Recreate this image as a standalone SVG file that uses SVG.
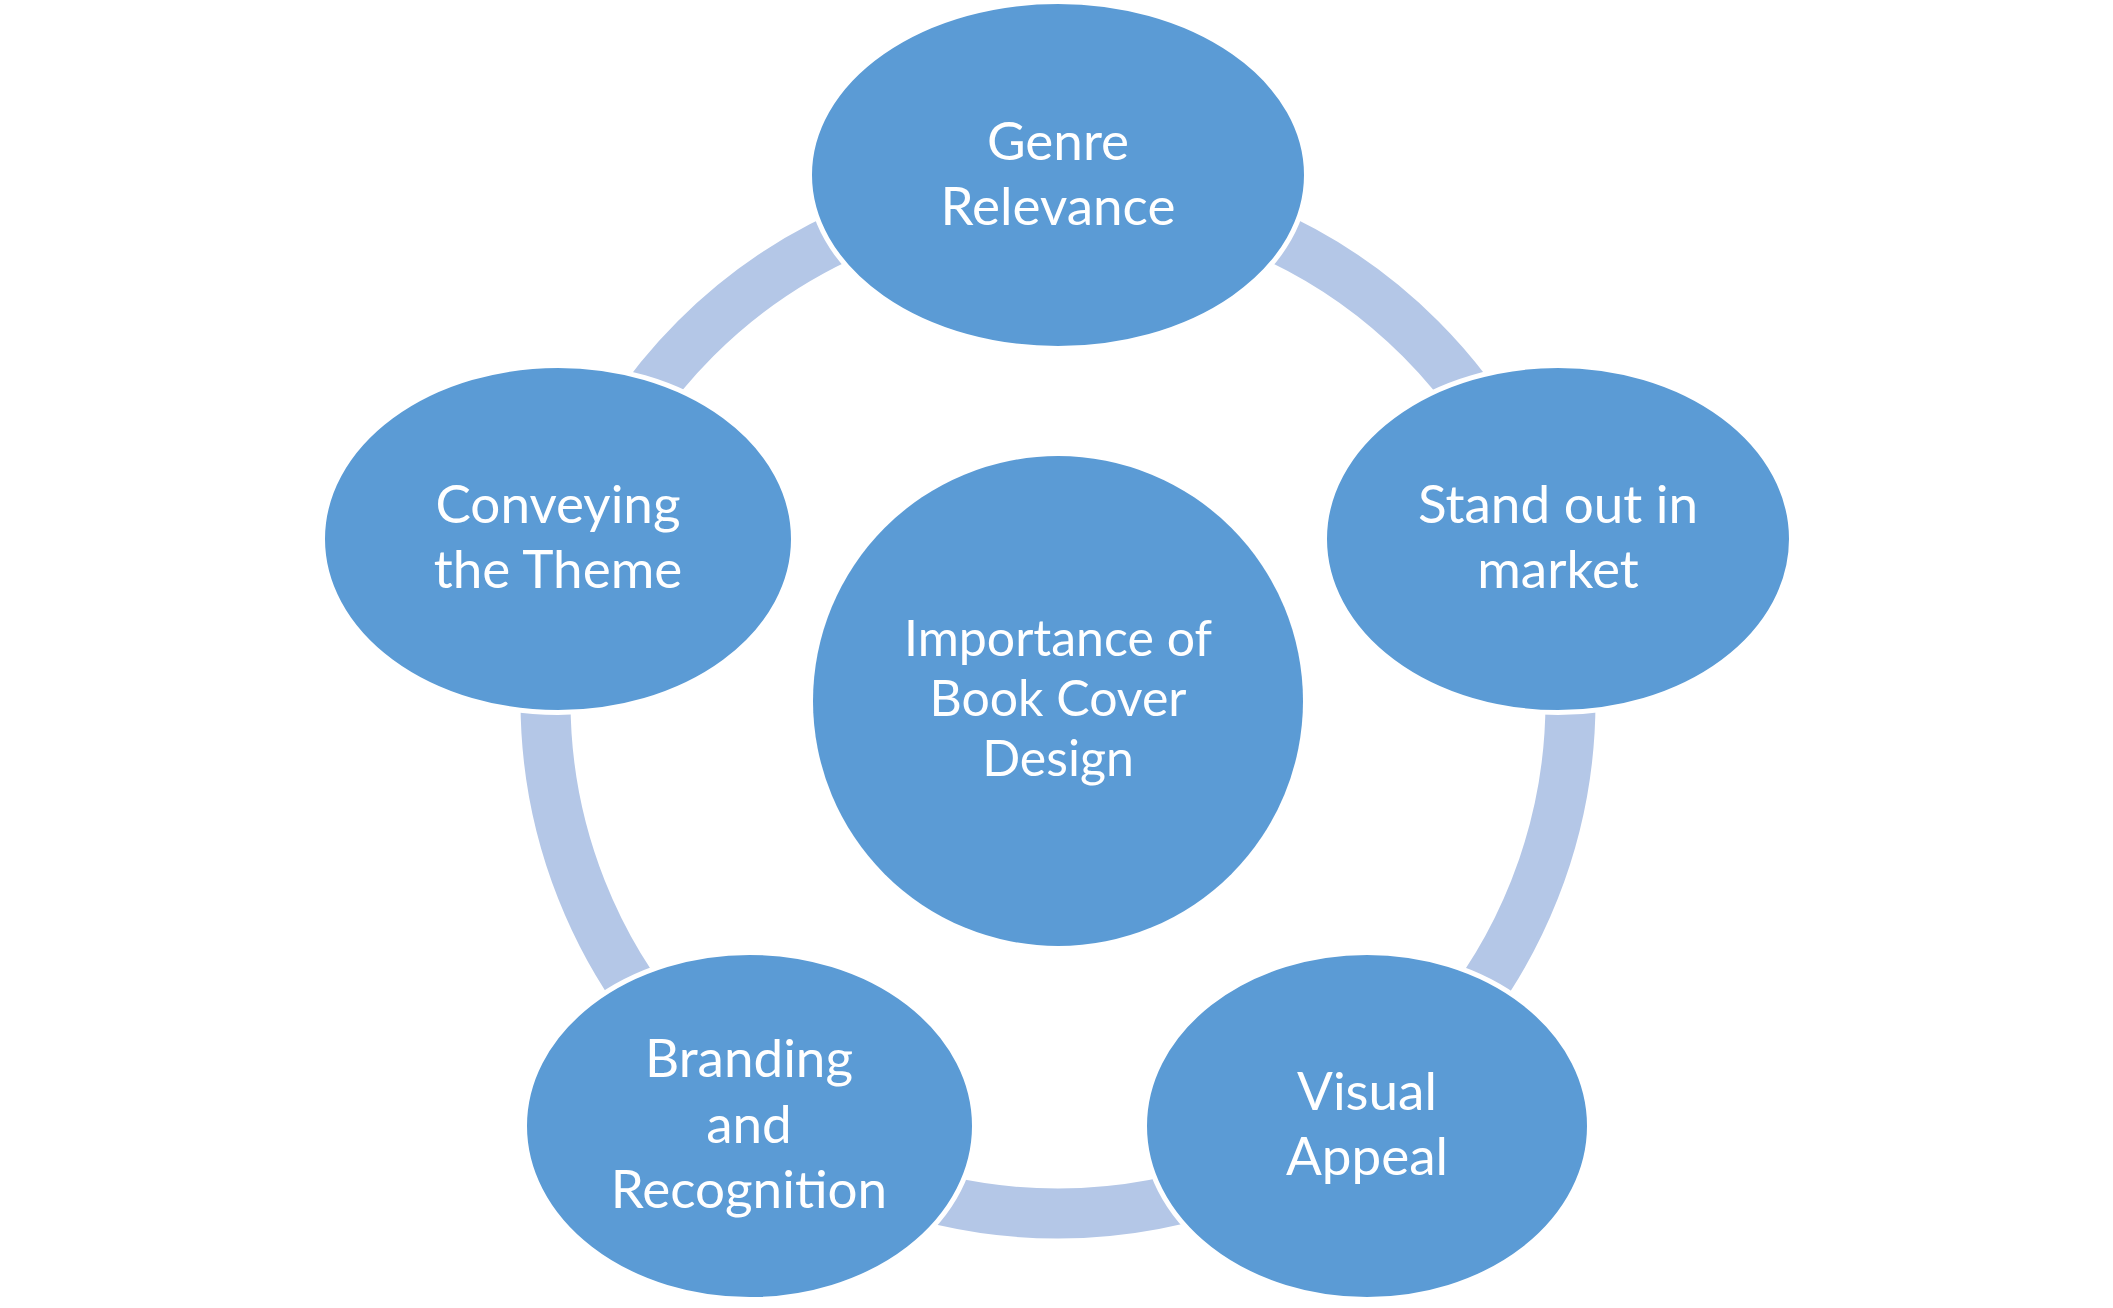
<svg xmlns="http://www.w3.org/2000/svg" width="2113" height="1308" viewBox="0 0 2113 1308">
<style>
.node{fill:#5B9BD5;stroke:#FFFFFF;stroke-width:5}
.hub{fill:#5B9BD5;stroke:none}
.ring{fill:none;stroke:#B4C7E7;stroke-width:50}
.t{font-family:Lato,"Open Sans","Liberation Sans",sans-serif;fill:#FFFFFF;text-anchor:middle;font-size:53px}
.tc{font-size:50px}
</style>
<rect width="2113" height="1308" fill="#FFFFFF"/>
<g id="connectors">
<circle class="ring" cx="1058" cy="701" r="512.5"/>
</g>
<g id="hub">
<circle class="hub" cx="1058" cy="701" r="245"/>
<text class="t tc" x="1058" y="656">Importance of</text>
<text class="t tc" x="1058" y="716">Book Cover</text>
<text class="t tc" x="1058" y="776">Design</text>
</g>
<g id="node-genre">
<ellipse class="node" cx="1058" cy="175" rx="248.5" ry="173.5"/>
<text class="t" x="1058" y="160">Genre</text>
<text class="t" x="1058" y="225">Relevance</text>
</g>
<g id="node-stand">
<ellipse class="node" cx="1558" cy="539" rx="233.5" ry="173.5"/>
<text class="t" x="1558" y="523">Stand out in</text>
<text class="t" x="1558" y="588">market</text>
</g>
<g id="node-visual">
<ellipse class="node" cx="1367" cy="1126" rx="222.5" ry="173.5"/>
<text class="t" x="1367" y="1110">Visual</text>
<text class="t" x="1367" y="1175">Appeal</text>
</g>
<g id="node-branding">
<ellipse class="node" cx="749.5" cy="1126" rx="225" ry="173.5"/>
<text class="t" x="749" y="1077">Branding</text>
<text class="t" x="749" y="1143">and</text>
<text class="t" x="749" y="1208">Recognition</text>
</g>
<g id="node-conveying">
<ellipse class="node" cx="558" cy="539" rx="235.5" ry="173.5"/>
<text class="t" x="558" y="523">Conveying</text>
<text class="t" x="558" y="588">the Theme</text>
</g>
</svg>
